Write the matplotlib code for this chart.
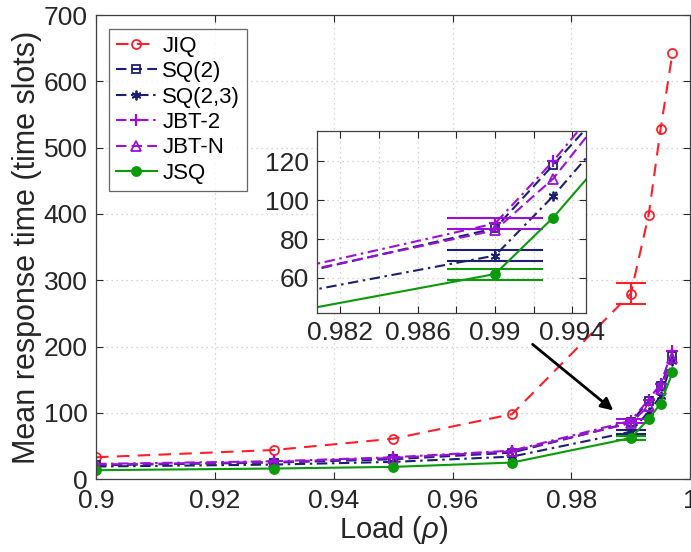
import numpy as np
import matplotlib
matplotlib.use("Agg")
from matplotlib import pyplot as plt

plt.rcParams['font.family'] = ['Liberation Sans', 'DejaVu Sans']
plt.rcParams['mathtext.fontset'] = 'custom'
plt.rcParams['mathtext.it'] = 'Liberation Sans:italic'

# load values on the x axis
load = [0.9, 0.93, 0.95, 0.97, 0.99, 0.993, 0.995, 0.997]

# mean response time per policy (time slots)
jiq = [33, 44, 61, 98, 280, 399, 528, 643]
sq2 = [21, 25, 30, 40, 85.5, 118, 140, 186]
sq23 = [19, 22, 26, 34, 71.5, 102, 125, 178]
jbt2 = [23, 27, 33, 43, 88, 120, 144, 194]
jbtn = [22, 26, 32, 42, 84.5, 111, 136, 182]
jsq = [13.5, 16, 18.5, 25, 62, 91, 114, 161]

# half width of the confidence intervals (0 = none drawn)
err_jiq = [0, 0, 0, 0, 16, 0, 0, 0]
err_sq2 = [0, 0, 0, 0, 0, 0, 0, 0]
err_sq23 = [0, 0, 0, 0, 2.8, 0, 0, 0]
err_jbt2 = [0, 0, 0, 0, 3, 0, 0, 0]
err_jbtn = [0, 0, 0, 0, 0, 0, 0, 0]
err_jsq = [0, 0, 0, 0, 2.8, 0, 0, 0]

names = ['JIQ', 'SQ(2)', 'SQ(2,3)', 'JBT-2', 'JBT-N', 'JSQ']

RED = '#ff1f2b'
NAVY = '#1c1f73'
PURPLE = '#9b10d8'
GREEN = '#0a9a0a'
ASTER = (6, 2, 0)

styles = [
  dict(color=RED, dashes=(6, 4), marker='o', mfc='none', ms=6.5),
  dict(color=NAVY, dashes=(5, 2.5), marker='s', mfc='none', ms=5.5),
  dict(color=NAVY, dashes=(5, 2.2, 1.2, 2.2), marker=ASTER, mfc=NAVY, ms=7),
  dict(color=PURPLE, dashes=(5, 2.2, 1.2, 2.2), marker='+', mfc=PURPLE, ms=9, mew=1.6),
  dict(color=PURPLE, dashes=(5, 2.5), marker='^', mfc='none', ms=7),
  dict(color=GREEN, linestyle='-', marker='o', mfc=GREEN, ms=6.5),
]
series = [jiq, sq2, sq23, jbt2, jbtn, jsq]
errors = [err_jiq, err_sq2, err_sq23, err_jbt2, err_jbtn, err_jsq]

CAP = 0.0025  # cap half width in load units


def drawSeries(ax, withLabel):
  for name, ys, es, st in zip(names, series, errors, styles):
    st = dict(st)
    st.setdefault('mew', 1.3)
    ax.plot(load, ys, lw=1.5, label=name if withLabel else None, **st)
    for x, y, e in zip(load, ys, es):
      if e > 0:
        ax.vlines(x, y - e, y + e, color=st['color'], lw=1.5)
        ax.hlines([y - e, y + e], x - CAP, x + CAP, color=st['color'], lw=1.5)


def styleAxes(ax):
  ax.grid(True, linestyle=(0, (1, 3)), color='#c8c8c8', lw=0.9)
  ax.tick_params(direction='in', top=True, right=True, length=5, width=0.8,
                 colors='#262626', labelcolor='#262626', labelsize=19)
  for s in ax.spines.values():
    s.set_color('#404040')
    s.set_linewidth(0.9)


fig = plt.figure(figsize=(6.91, 5.52), dpi=100)
ax = fig.add_axes([0.139, 0.132, 0.860, 0.8406])
drawSeries(ax, True)
ax.set_xlim(0.9, 1.0)
ax.set_ylim(0, 700)
ax.set_xticks([0.9, 0.92, 0.94, 0.96, 0.98, 1.0])
ax.set_xticklabels(['0.9', '0.92', '0.94', '0.96', '0.98', '1'])
ax.set_yticks(np.arange(0, 701, 100))
styleAxes(ax)
ax.tick_params(axis='x', pad=7)
ax.tick_params(axis='y', pad=6)
ax.set_xlabel(r'Load ($\rho$)', fontsize=21, color='#262626', labelpad=1)
ax.set_ylabel('Mean response time (time slots)', fontsize=22, color='#262626', labelpad=1)

leg = ax.legend(loc='upper left', bbox_to_anchor=(0.022, 0.97), fontsize=16,
                frameon=True, fancybox=False, handlelength=1.85, handletextpad=0.25,
                labelspacing=0.2, borderpad=0.3, borderaxespad=0)
leg.get_frame().set_edgecolor('#404040')
leg.get_frame().set_linewidth(0.9)

# arrow pointing from the zoomed view to the region it shows
ax.annotate('', xy=(0.9874, 101), xytext=(0.9731, 206),
            arrowprops=dict(arrowstyle='-|>', color='black', lw=2, mutation_scale=18))

ins = fig.add_axes([0.4588, 0.433, 0.3893, 0.3297])
drawSeries(ins, False)
ins.set_xlim(0.9808, 0.9947)
ins.set_ylim(42, 135.5)
ins.set_xticks(np.arange(0.982, 0.9945, 0.002))
ins.set_xticklabels(['0.982', '', '0.986', '', '0.99', '', '0.994'])
ins.set_yticks([60, 80, 100, 120])
styleAxes(ins)
ins.tick_params(pad=6)

fig.savefig('out.png', dpi=100)
